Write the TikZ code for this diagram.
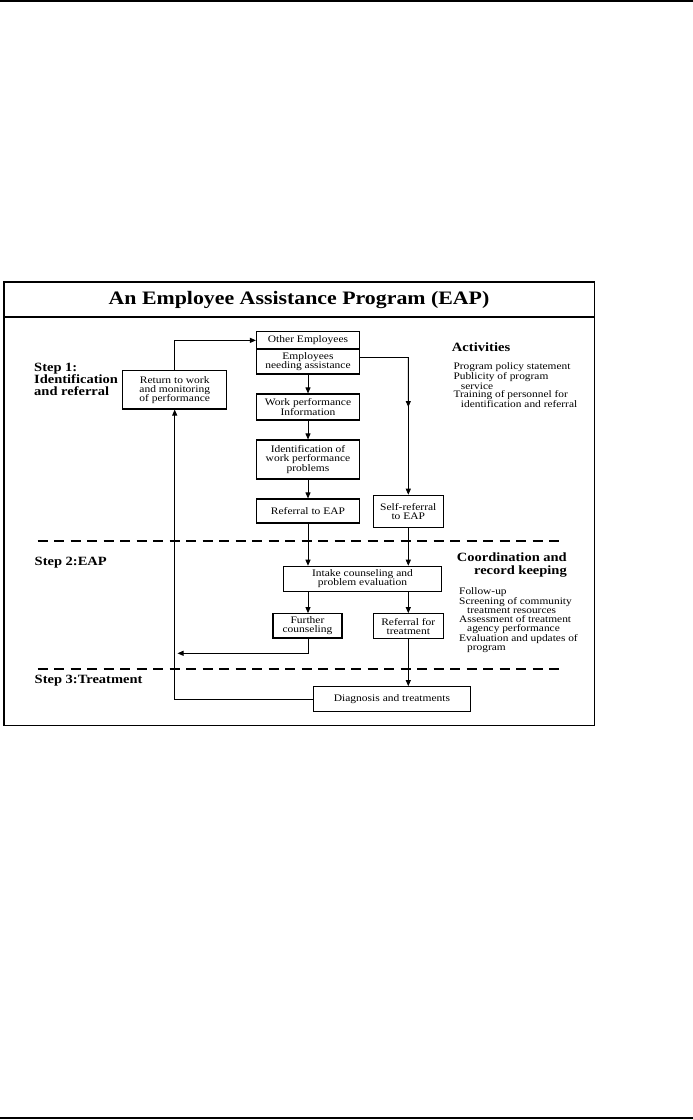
\documentclass[tikz,border=0pt]{standalone}
\usepackage{fontspec}
\setmainfont{Liberation Serif}[FakeStretch=1.15]
\usetikzlibrary{arrows.meta,calc}
\begin{document}
\begin{tikzpicture}[x=1pt,y=-1pt,
  stepbox/.style={draw,line width=1.15pt,inner sep=0pt,align=center,
    font=\fontsize{10}{9.2}\selectfont},
  arr/.style={line width=0.85pt,-{Triangle[length=6pt,width=5pt]}},
  sepline/.style={line width=1.9pt,dash pattern=on 10pt off 6.5pt},
  steplabel/.style={inner sep=0pt,anchor=west,align=left,
    font=\bfseries\fontsize{12.6}{12}\selectfont},
  itemtext/.style={inner sep=0pt,anchor=west,align=left},
  ]
\useasboundingbox (0,0) rectangle (693,1120);
% page rules
\draw[line width=2.2pt] (0,1.1) -- (693,1.1);
\draw[line width=2.4pt] (0,1118) -- (693,1118);
% frame
\draw[line width=1.5pt] (4,282) rectangle (594.5,725.7);
\draw[line width=1.3pt] (4,317) -- (594.5,317);
\node[inner sep=0pt,font=\bfseries\fontsize{19}{22}\selectfont] (title) at (299,299.5)
  {An Employee Assistance Program (EAP)};
% separators
\draw[sepline] (37.6,541.3) -- (565,541.3);
\draw[sepline] (37.6,669) -- (565,669);
% step labels
\node[steplabel] (s1) at (34,379) {Step 1:\\Identification\\and referral};
\node[steplabel] (s2) at (34.5,562.7) {Step 2:EAP};
\node[steplabel] (s3) at (34.5,680.7) {Step 3:Treatment};
% activities
\node[itemtext,font=\bfseries\fontsize{12.7}{14}\selectfont] (act) at (451.7,347) {Activities};
\node[itemtext,font=\fontsize{9.9}{7.9}\selectfont] (actl) at (453.3,384.9)
  {Program policy statement\\Publicity of program\\\hspace{7.4pt}service\\Training of personnel for\\\hspace{7.4pt}identification and referral};
\node[inner sep=0pt,anchor=east,align=right,font=\bfseries\fontsize{12.6}{13.7}\selectfont] (coord) at (567,565)
  {Coordination and\\record keeping};
\node[itemtext,font=\fontsize{9.9}{9.05}\selectfont] (coordl) at (459,619.9)
  {Follow-up\\Screening of community\\\hspace{8pt}treatment resources\\Assessment of treatment\\\hspace{8pt}agency performance\\Evaluation and updates of\\\hspace{8pt}program};
% boxes
\node[stepbox,minimum width=104pt,minimum height=38.3pt] (ret) at (174.7,389.85)
  {Return to work\\and monitoring\\of performance};
\node[stepbox,minimum width=103pt,minimum height=17.3pt] (oth) at (308,340.35) {Other Employees};
\node[stepbox,minimum width=103pt,minimum height=25pt] (need) at (308,361.5) {Employees\\needing assistance};
\node[stepbox,minimum width=103pt,minimum height=26pt] (wpi) at (308,407) {Work performance\\Information};
\node[stepbox,minimum width=103pt,minimum height=39pt] (idp) at (308,459.5) {Identification of\\work performance\\problems};
\node[stepbox,minimum width=103pt,minimum height=24pt] (ref) at (308,511) {Referral to EAP};
\node[stepbox,minimum width=70pt,minimum height=32pt] (self) at (408.3,511.3) {Self-referral\\to EAP};
\node[stepbox,minimum width=158.4pt,minimum height=25pt] (intake) at (362.5,578.8) {Intake counseling and\\problem evaluation};
\node[stepbox,minimum width=69pt,minimum height=24.3pt] (further) at (307.5,625.85) {Further\\counseling};
\node[stepbox,minimum width=70pt,minimum height=25pt] (rft) at (408.3,626.2) {Referral for\\treatment};
\node[stepbox,minimum width=157.4pt,minimum height=25pt] (diag) at (392,699.2) {Diagnosis and treatments};
% connectors
\draw[arr] (ret.north) |- (oth.west);
\coordinate (needr) at ([yshift=3.8pt]need.east);
\coordinate (bend) at (needr -| self.north);
\draw[arr] (needr) -| (self.north);
\draw[arr] (bend) -- ($(bend)!0.36!(self.north)$);
\draw[arr] (need.south) -- (wpi.north);
\draw[arr] (wpi.south) -- (idp.north);
\draw[arr] (idp.south) -- (ref.north);
\draw[arr] (ref.south) -- (ref.south |- intake.north);
\draw[arr] (self.south) -- (self.south |- intake.north);
\coordinate (inl) at (intake.south -| ref.south);
\draw[arr] (inl) -- (inl |- further.north);
\coordinate (inr) at (intake.south -| rft.north);
\draw[arr] (inr) -- (rft.north);
\coordinate (fcstart) at (further.south -| ref.south);
\coordinate (fcend) at (177.5,653.3);
\draw[arr] (fcstart) |- (fcend);
\draw[arr] (rft.south) -- (rft.south |- diag.north);
\draw[arr] (diag.west) -| (ret.south);
\end{tikzpicture}
\end{document}
